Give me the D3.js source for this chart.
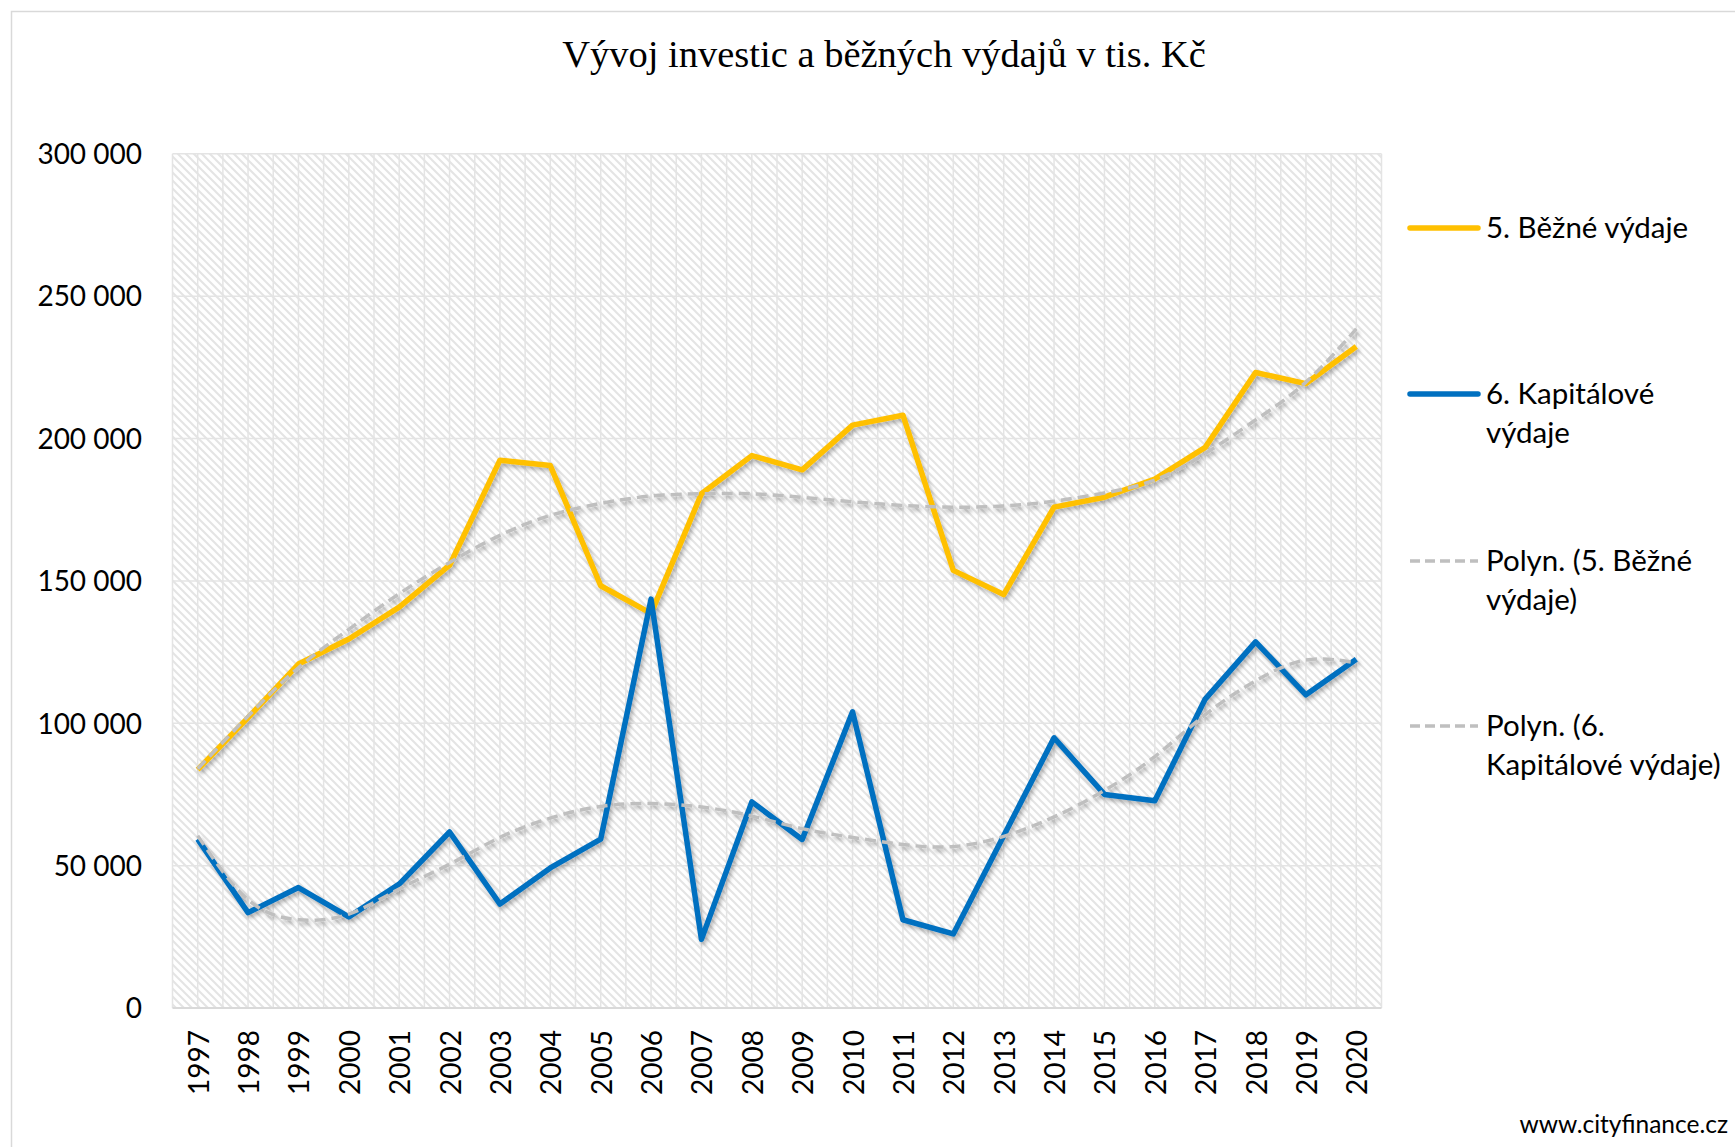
<!DOCTYPE html>
<html>
<head>
<meta charset="utf-8">
<script src="https://cdnjs.cloudflare.com/ajax/libs/d3/7.8.5/d3.min.js"></script>
<style>
  html, body { margin: 0; padding: 0; background: #fff; }
  svg { display: block; }
</style>
</head>
<body>
<svg id="chart" width="1735" height="1147"></svg>
<script>
// ---- data ----
const years = ['1997','1998','1999','2000','2001','2002','2003','2004','2005','2006','2007','2008',
               '2009','2010','2011','2012','2013','2014','2015','2016','2017','2018','2019','2020'];
const bezneVydaje = [83700, 102000, 120800, 129600, 140800, 155500, 192400, 190500, 148300, 138600, 180600, 194000,
                     189000, 204700, 208200, 153700, 145200, 175900, 179400, 185800, 196900, 223200, 219300, 232300];
const kapitalovVydaje = [59300, 33500, 42300, 32000, 43500, 61800, 36500, 49200, 59300, 143600, 24100, 72400,
                         59200, 104000, 31000, 26000, 60500, 94900, 75000, 72800, 108500, 128600, 110000, 122500];
const polynBezne = [84000, 102500, 119500, 133000, 145500, 156500, 166000, 173000, 177200, 179800, 180600, 180600,
                    179300, 177800, 176500, 175900, 176300, 178000, 180900, 185400, 194700, 206500, 219800, 238500];
const polynKapital = [60500, 38000, 31000, 33000, 41800, 50500, 59900, 66700, 70800, 71800, 70600, 67400,
                      63000, 59900, 57400, 56700, 60300, 67100, 76400, 88300, 103000, 114900, 122200, 121200];
const yTicks = [0, 50000, 100000, 150000, 200000, 250000, 300000];
const yTickLabels = ['0', '50 000', '100 000', '150 000', '200 000', '250 000', '300 000'];
const title = 'Vývoj investic a běžných výdajů v tis. Kč';
const legendLabels = [['5. Běžné výdaje'], ['6. Kapitálové', 'výdaje'], ['Polyn. (5. Běžné', 'výdaje)'], ['Polyn. (6.', 'Kapitálové výdaje)']];
const footer = 'www.cityfinance.cz';

// ---- layout ----
const W = 1735, H = 1147;
const plot = { left: 172.5, right: 1381.5, top: 153.8, bottom: 1008 };
const FONT = 'Lato, "Liberation Sans", sans-serif';

const svg = d3.select('#chart');
const defs = svg.append('defs');

const P = 8;
const pat = defs.append('pattern').attr('id', 'hatch').attr('patternUnits', 'userSpaceOnUse')
  .attr('width', P).attr('height', P);
pat.append('rect').attr('width', P).attr('height', P).attr('fill', '#ffffff');
pat.append('path').attr('d', `M-1,-1 L${P+1},${P+1} M-1,${P-1} L1,${P+1} M${P-1},-1 L${P+1},1`)
  .attr('stroke', '#e4e4e4').attr('stroke-width', 2);

const f = defs.append('filter').attr('id', 'shadow').attr('x', '-10%').attr('y', '-10%')
  .attr('width', '120%').attr('height', '120%');
f.append('feDropShadow').attr('dx', 2).attr('dy', 3).attr('stdDeviation', 2)
  .attr('flood-color', '#000').attr('flood-opacity', 0.3);

// chart border
svg.append('rect').attr('x', 11.5).attr('y', 11.5).attr('width', 1800).attr('height', 1300)
  .attr('fill', '#fff').attr('stroke', '#d9d9d9').attr('stroke-width', 1.5);

// scales
const xBand = d3.scaleBand().domain(years).range([plot.left, plot.right]).padding(0);
const x = d => xBand(d) + xBand.bandwidth() / 2;
const y = d3.scaleLinear().domain([0, 300000]).range([plot.bottom, plot.top]);

// plot background
svg.append('rect').attr('x', plot.left).attr('y', plot.top)
  .attr('width', plot.right - plot.left).attr('height', plot.bottom - plot.top)
  .attr('fill', 'url(#hatch)');

// vertical grid lines (category boundaries and centres)
const vLines = [];
years.forEach(d => { vLines.push(xBand(d)); vLines.push(x(d)); });
vLines.push(plot.right);
svg.append('g').selectAll('line').data(vLines).join('line')
  .attr('x1', d => d).attr('x2', d => d).attr('y1', plot.top).attr('y2', plot.bottom)
  .attr('stroke', '#e4e4e4').attr('stroke-width', 1.5);

// horizontal grid lines
svg.append('g').selectAll('line').data(yTicks).join('line')
  .attr('x1', plot.left).attr('x2', plot.right).attr('y1', d => y(d)).attr('y2', d => y(d))
  .attr('stroke', d => d === 0 ? '#d9d9d9' : '#e4e4e4').attr('stroke-width', d => d === 0 ? 2 : 1.5);

// y axis labels
const yAxis = d3.axisLeft(y).tickValues(yTicks).tickFormat((d, i) => yTickLabels[i]).tickSize(0).tickPadding(0);
const yg = svg.append('g').attr('transform', `translate(142,0)`).call(yAxis);
yg.select('.domain').remove();
yg.selectAll('text').attr('font-family', FONT).attr('font-size', 28).attr('fill', '#000').attr('dy', '0.35em');

// x axis labels (rotated)
const xAxis = d3.axisBottom(xBand).tickSize(0).tickPadding(0);
const xg = svg.append('g').attr('transform', `translate(0,${plot.bottom})`).call(xAxis);
xg.select('.domain').remove();
xg.selectAll('text')
  .attr('font-family', FONT).attr('font-size', 28).attr('fill', '#000')
  .attr('text-anchor', 'end').attr('dy', null)
  .attr('dominant-baseline', 'central')
  .attr('transform', 'translate(0,22) rotate(-90)')
  .attr('y', 0).attr('x', 0);

// lines
const lineGen = d3.line().x((d, i) => x(years[i])).y(d => y(d));
const trendGen = d3.line().x((d, i) => x(years[i])).y(d => y(d)).curve(d3.curveNatural);

const g = svg.append('g').attr('filter', 'url(#shadow)');
g.append('path').datum(bezneVydaje).attr('d', lineGen)
  .attr('fill', 'none').attr('stroke', '#FFC000').attr('stroke-width', 5.5).attr('stroke-linejoin', 'round');
g.append('path').datum(kapitalovVydaje).attr('d', lineGen)
  .attr('fill', 'none').attr('stroke', '#0070C0').attr('stroke-width', 5.5).attr('stroke-linejoin', 'round');
g.append('path').datum(polynBezne).attr('d', trendGen)
  .attr('fill', 'none').attr('stroke', '#BFBFBF').attr('stroke-width', 3.5).attr('stroke-dasharray', '11,6');
g.append('path').datum(polynKapital).attr('d', trendGen)
  .attr('fill', 'none').attr('stroke', '#BFBFBF').attr('stroke-width', 3.5).attr('stroke-dasharray', '11,6');

// title
svg.append('text').attr('x', 884).attr('y', 67).attr('text-anchor', 'middle')
  .attr('font-family', '"Liberation Serif", "DejaVu Serif", serif').attr('font-size', 38.5)
  .attr('fill', '#000').text(title);

// legend
const legendItems = [
  { color: '#FFC000', dash: null, width: 5.5, y: 228 },
  { color: '#0070C0', dash: null, width: 5.5, y: 394 },
  { color: '#BFBFBF', dash: '10,5', width: 3.5, y: 561 },
  { color: '#BFBFBF', dash: '10,5', width: 3.5, y: 726 }
];
const lg = svg.append('g');
legendItems.forEach((it, i) => {
  lg.append('line').attr('x1', 1410).attr('x2', 1478).attr('y1', it.y).attr('y2', it.y)
    .attr('stroke', it.color).attr('stroke-width', it.width)
    .attr('stroke-linecap', it.dash ? 'butt' : 'round')
    .attr('stroke-dasharray', it.dash);
  const t = lg.append('text').attr('x', 1486).attr('y', it.y).attr('font-family', FONT)
    .attr('font-size', 29.5).attr('fill', '#000');
  legendLabels[i].forEach((s, k) => {
    t.append('tspan').attr('x', 1486).attr('dy', k === 0 ? '0.35em' : 39).text(s);
  });
});

// footer
svg.append('text').attr('x', 1728).attr('y', 1133).attr('text-anchor', 'end')
  .attr('font-family', FONT).attr('font-size', 24.5).attr('fill', '#000').text(footer);
</script>
</body>
</html>
